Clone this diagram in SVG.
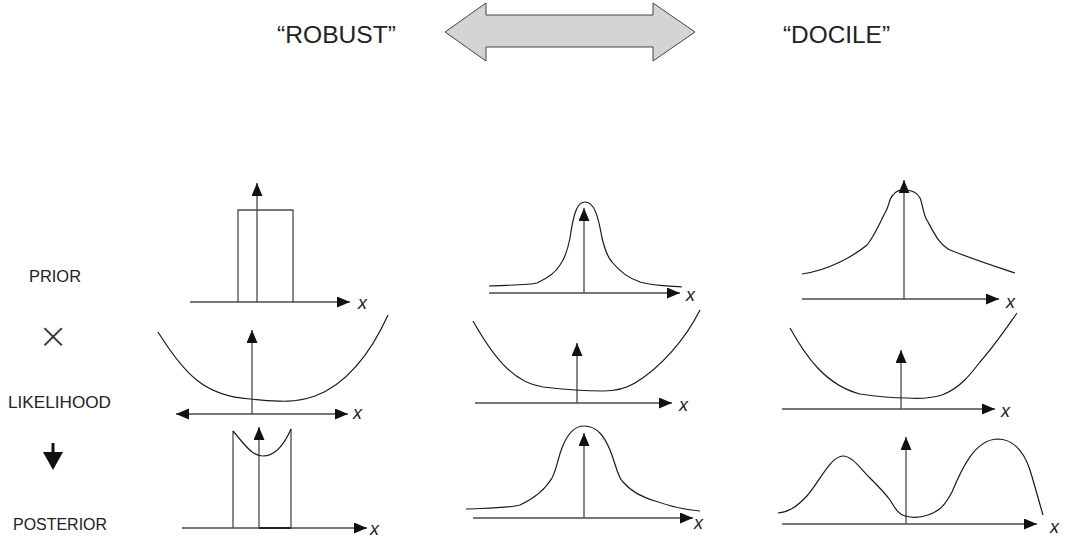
<svg xmlns="http://www.w3.org/2000/svg" width="1068" height="542" viewBox="0 0 1068 542">
<style>
.lbl{font-family:"Liberation Sans",Arial,sans-serif;fill:#222;}
.big{font-size:24px;}
.row{font-size:16px;}
.xl{font-family:"Liberation Sans",Arial,sans-serif;font-style:italic;font-size:18px;fill:#222;}
.ax{fill:none;stroke:#4a4a4a;stroke-width:1.3;}
.cv{fill:none;stroke:#1a1a1a;stroke-width:1.2;}
</style>
<defs>
<marker id="ah" markerUnits="userSpaceOnUse" markerWidth="14" markerHeight="12" refX="13" refY="5.5" orient="auto-start-reverse">
<path d="M0,0 L13,5.5 L0,11 z" fill="#111"/>
</marker>
</defs>
<rect width="1068" height="542" fill="#fff"/>

<g id="labels">
<text class="lbl big" x="277" y="43" textLength="119" lengthAdjust="spacingAndGlyphs">“ROBUST”</text>
<text class="lbl big" x="783" y="43" textLength="107" lengthAdjust="spacingAndGlyphs">“DOCILE”</text>
<text class="lbl row" x="29" y="282" textLength="52" lengthAdjust="spacingAndGlyphs">PRIOR</text>
<text x="53" y="348" text-anchor="middle" style="font-family:'DejaVu Sans ExtraLight','DejaVu Sans',sans-serif;font-weight:200;font-size:36px;fill:#333">×</text>
<text class="lbl row" x="8" y="408" textLength="103" lengthAdjust="spacingAndGlyphs">LIKELIHOOD</text>
<text class="lbl row" x="13" y="530" textLength="94" lengthAdjust="spacingAndGlyphs">POSTERIOR</text>
</g>

<g id="connectors">
<polygon points="445,32 486,3 486,15 653,15 653,3 695,32 653,61 653,47 486,47 486,61" fill="#d3d4d6" stroke="#444" stroke-width="1"/>
<g id="down-arrow">
<line x1="53" y1="443" x2="53" y2="454" stroke="#111" stroke-width="3"/>
<polygon points="43,452 63,452 53,470" fill="#111"/>
</g>
</g>

<g id="prior-robust">
<line class="ax" x1="190" y1="302" x2="350" y2="302" marker-end="url(#ah)"/>
<line class="ax" x1="257" y1="302" x2="257" y2="183" marker-end="url(#ah)"/>
<polyline class="ax" points="238,302 238,210 293,210 293,302"/>
<text class="xl" x="358" y="309">x</text>
</g>

<g id="likelihood-robust">
<line class="ax" x1="176" y1="414" x2="348" y2="414" marker-start="url(#ah)" marker-end="url(#ah)"/>
<line class="ax" x1="252" y1="414" x2="252" y2="330" marker-end="url(#ah)"/>
<path class="cv" d="M158,332 C185,375 205,396 250,399 C275,401 292,404 315,396 C345,385 370,355 388,315"/>
<text class="xl" x="353" y="419">x</text>
</g>

<g id="posterior-robust">
<line class="ax" x1="182" y1="528" x2="367" y2="528" marker-end="url(#ah)"/>
<line x1="259" y1="528" x2="291" y2="528" stroke="#222" stroke-width="2"/>
<line class="ax" x1="259" y1="528" x2="259" y2="427" marker-end="url(#ah)"/>
<polyline class="ax" points="233,528 233,431"/>
<polyline class="ax" points="291,528 291,429"/>
<path class="cv" d="M233,431 C245,445 252,456 263,456 C275,456 284,445 291,429"/>
<text class="xl" x="370" y="535">x</text>
</g>

<g id="prior-mid">
<line class="ax" x1="489" y1="293" x2="680" y2="293" marker-end="url(#ah)"/>
<line class="ax" x1="584" y1="293" x2="584" y2="208" marker-end="url(#ah)"/>
<path class="cv" d="M489,286 C510,285 530,285 537,283 C548,278 556,272 560,265 C566,257 568,248 570,238 C574,210 578,202 585,202 C594,202 598,215 602,238 C605,250 608,258 612,262 C620,272 628,278 640,282 C655,286 670,286 682,287"/>
<text class="xl" x="686" y="301">x</text>
</g>

<g id="likelihood-mid">
<line class="ax" x1="475" y1="403" x2="672" y2="403" marker-end="url(#ah)"/>
<line class="ax" x1="577" y1="403" x2="577" y2="343" marker-end="url(#ah)"/>
<path class="cv" d="M473,321 C495,360 515,383 543,387 C560,389 590,391 603,391 C615,391 625,389 635,383 C660,368 685,340 700,310"/>
<text class="xl" x="679" y="411">x</text>
</g>

<g id="posterior-mid">
<line class="ax" x1="473" y1="518" x2="693" y2="518" marker-end="url(#ah)"/>
<line class="ax" x1="584" y1="518" x2="584" y2="433" marker-end="url(#ah)"/>
<path class="cv" d="M466,509 C490,508 510,508 520,505 C535,498 545,490 552,478 C557,468 558,458 562,448 C568,432 575,426 584,426 C598,426 605,438 610,450 C616,465 618,478 623,482 C632,492 640,496 655,501 C672,507 688,510 700,511"/>
<text class="xl" x="694" y="529">x</text>
</g>

<g id="prior-docile">
<line class="ax" x1="802" y1="299" x2="999" y2="299" marker-end="url(#ah)"/>
<line class="ax" x1="904" y1="299" x2="904" y2="180" marker-end="url(#ah)"/>
<path class="cv" d="M802,274 C830,270 855,255 867,245 C875,235 880,222 885,213 C890,205 888,200 893,195 C897,190 900,190 904,190 C912,190 917,192 920,198 C923,205 923,215 928,222 C935,235 940,245 950,250 C975,260 1000,268 1015,273"/>
<text class="xl" x="1006" y="308">x</text>
</g>

<g id="likelihood-docile">
<line class="ax" x1="782" y1="409" x2="995" y2="409" marker-end="url(#ah)"/>
<line class="ax" x1="901" y1="409" x2="901" y2="350" marker-end="url(#ah)"/>
<path class="cv" d="M790,328 C805,355 825,385 860,394 C880,397 895,398 907,398 C920,399 932,398 942,395 C960,388 970,375 980,362 C995,345 1005,330 1017,313"/>
<text class="xl" x="1001" y="417">x</text>
</g>

<g id="posterior-docile">
<line class="ax" x1="782" y1="524" x2="1037" y2="524" marker-end="url(#ah)"/>
<line class="ax" x1="906" y1="524" x2="906" y2="437" marker-end="url(#ah)"/>
<path class="cv" d="M778,513 C790,512 798,505 805,498 C818,485 830,456 843,456 C852,456 860,468 870,478 C880,488 885,493 890,500 C895,508 898,514 905,516 C912,518 920,518 928,515 C940,511 945,505 952,492 C962,468 975,440 997,439 C1015,439 1025,455 1030,470 C1036,490 1040,505 1043,515"/>
<text class="xl" x="1050" y="533">x</text>
</g>
</svg>
